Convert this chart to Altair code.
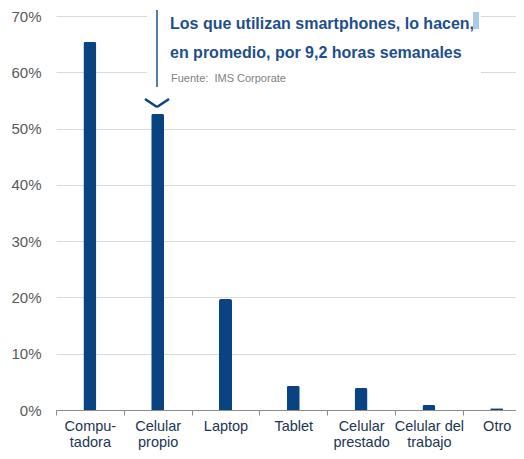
import altair as alt
import pandas as pd

categories = ["Compu-|tadora", "Celular|propio", "Laptop", "Tablet",
              "Celular|prestado", "Celular del|trabajo", "Otro"]
values = [65.4, 52.6, 19.7, 4.3, 3.9, 0.9, 0.3]
y_ticks = [0, 10, 20, 30, 40, 50, 60, 70]
title_line1 = ["Los que utilizan smartphones, lo hacen,"]
title_line2 = ["en promedio, por 9,2 horas semanales"]
source_text = ["Fuente:\u00a0 IMS Corporate"]

BAR = "#0a4382"
TITLE = "#1e4f8c"
FONT = "Liberation Sans"

df = pd.DataFrame({"cat": categories, "val": values})
one = pd.DataFrame({"k": [0]})

bars = alt.Chart(df).mark_bar(
    width=13, color=BAR, cornerRadiusTopLeft=2, cornerRadiusTopRight=2
).encode(
    x=alt.X("cat:N", sort=categories,
            scale=alt.Scale(range=[0, 474.6], paddingInner=0, paddingOuter=0),
            axis=alt.Axis(title=None, labelAngle=0, labelExpr="split(datum.label, '|')",
                          tickBand="extent", grid=False, domainColor="#8c8c8c",
                          tickColor="#8c8c8c", tickSize=5, labelColor="#1c3553",
                          labelFontSize=14.5, labelFont=FONT, labelLineHeight=16.5,
                          labelPadding=4)),
    y=alt.Y("val:Q", scale=alt.Scale(domain=[0, 70], nice=False),
            axis=alt.Axis(title=None, values=y_ticks, labelExpr="datum.value + '%'",
                          domain=False, ticks=False, grid=True, gridColor="#d9d9d9",
                          labelColor="#595959", labelFontSize=15, labelFont=FONT,
                          labelPadding=15)),
)

box = alt.Chart(one).mark_rect(color="white").encode(
    x=alt.value(91), x2=alt.value(425), y=alt.value(-11), y2=alt.value(76))
vline = alt.Chart(one).mark_rule(color=TITLE, strokeWidth=1.5).encode(
    x=alt.value(101), y=alt.value(-6), y2=alt.value(71))
t1 = alt.Chart(pd.DataFrame({"t": title_line1})).mark_text(
    align="left", baseline="alphabetic", fontSize=16, fontWeight="bold",
    font=FONT, color=TITLE).encode(text="t:N", x=alt.value(114), y=alt.value(13))
t2 = alt.Chart(pd.DataFrame({"t": title_line2})).mark_text(
    align="left", baseline="alphabetic", fontSize=16, fontWeight="bold",
    font=FONT, color=TITLE).encode(text="t:N", x=alt.value(114), y=alt.value(42))
src = alt.Chart(pd.DataFrame({"t": source_text})).mark_text(
    align="left", baseline="alphabetic", fontSize=11, font=FONT,
    color="#7f7f7f").encode(text="t:N", x=alt.value(115), y=alt.value(66))
marker = alt.Chart(one).mark_rect(color="#a9cbe8").encode(
    x=alt.value(417), x2=alt.value(423), y=alt.value(-4), y2=alt.value(13))
chev1 = alt.Chart(one).mark_rule(color=BAR, strokeWidth=2.5).encode(
    x=alt.value(89), y=alt.value(83), x2=alt.value(101), y2=alt.value(91))
chev2 = alt.Chart(one).mark_rule(color=BAR, strokeWidth=2.5).encode(
    x=alt.value(101), y=alt.value(91), x2=alt.value(113), y2=alt.value(83))

chart = alt.layer(bars, box, vline, t1, t2, src, marker, chev1, chev2).properties(
    width=460, height=394,
    autosize=alt.AutoSizeParams(type="none"),
    padding={"left": 48, "top": 8, "right": 0, "bottom": 41},
    background="white",
).configure_view(stroke=None)

chart.save("out.html", embed_options={"renderer": "svg", "actions": False})
